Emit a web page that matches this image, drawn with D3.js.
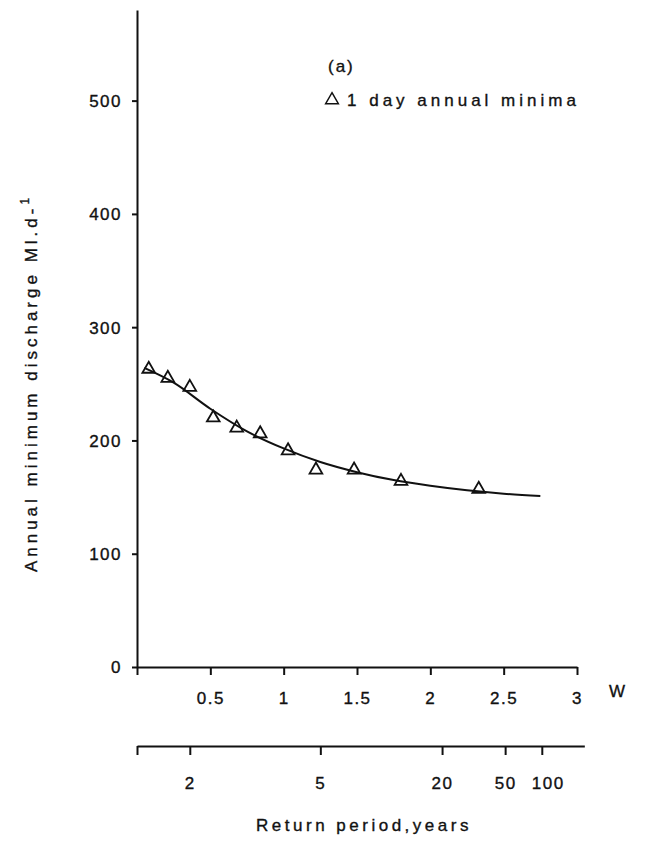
<!DOCTYPE html>
<html>
<head>
<meta charset="utf-8">
<script src="https://cdn.jsdelivr.net/npm/d3@7"></script>
<style>
  body { margin: 0; background: #fff; }
  svg text { font-family: "Liberation Sans", Arial, sans-serif; fill: #111; stroke: #111; stroke-width: 0.35px; }
  .axis path, .axis line { stroke: #111; stroke-width: 2; }
  .axis text { font-size: 17px; letter-spacing: 1.5px; }
</style>
</head>
<body>
<div id="vis"></div>
<script>

// observed 1 day annual minima: reduced variate W and discharge (Ml/d)
var obsW = [0.08, 0.21, 0.36, 0.52, 0.68, 0.84, 1.03, 1.22, 1.48, 1.80, 2.33];
var obsQ = [263, 255, 247, 220, 211, 206, 191, 174, 174, 164, 157];

// fitted curve
var fitW = [0.05, 0.25, 0.5, 0.75, 1.0, 1.25, 1.5, 1.75, 2.0, 2.25, 2.5, 2.75];
var fitQ = [264, 251, 228, 208, 193, 181, 172, 165, 160, 156, 153, 151];

// axis ticks
var yTicks = [0, 100, 200, 300, 400, 500];
var wTicks = [0, 0.5, 1, 1.5, 2, 2.5, 3];
var periodLabels = ["", "2", "5", "20", "50", "100"];
var periodW = [0, 0.36, 1.25, 2.08, 2.51, 2.76];

var width = 663, height = 842;

var svg = d3.select("#vis").append("svg")
    .attr("width", width)
    .attr("height", height);

// scales
var x = d3.scaleLinear().domain([0, 3]).range([137, 577]);
var y = d3.scaleLinear().domain([0, 580]).range([667, 10]);
// return period axis shares the W scale, a little longer
var x2 = d3.scaleLinear().domain([0, 3.05]).range([x(0), x(3.05)]);

// y axis
svg.append("g")
    .attr("class", "axis")
    .attr("transform", "translate(" + x(0) + ",0)")
    .call(d3.axisLeft(y).tickValues(yTicks).tickSize(5).tickSizeOuter(0).tickPadding(10))
    .call(function(g) { g.selectAll(".tick text").attr("dy", "0.35em"); });

// W axis
svg.append("g")
    .attr("class", "axis")
    .attr("transform", "translate(0," + y(0) + ")")
    .call(d3.axisBottom(x).tickValues(wTicks).tickSize(8).tickSizeOuter(0).tickPadding(17)
        .tickFormat(function(d) { return d === 0 ? "" : d3.format("")(d); }));

svg.append("text")
    .attr("x", 617)
    .attr("y", 697)
    .attr("text-anchor", "middle")
    .style("font-size", "17px")
    .text("W");

// return period axis
var yPeriod = 746;
svg.append("g")
    .attr("class", "axis")
    .attr("transform", "translate(0," + yPeriod + ")")
    .call(d3.axisBottom(x2).tickValues(periodW).tickSize(9).tickSizeOuter(0).tickPadding(22)
        .tickFormat(function(d, i) { return periodLabels[i]; }))
    .call(function(g) {
      g.selectAll(".tick text").attr("dx", function(d, i) { return i === 5 ? 6 : 0; });
    });

svg.append("text")
    .attr("x", 364)
    .attr("y", 831)
    .attr("text-anchor", "middle")
    .style("font-size", "17px")
    .style("letter-spacing", "3.5px")
    .text("Return period,years");

// y axis title
var ylab = svg.append("text")
    .attr("transform", "translate(37,383)rotate(-90)")
    .attr("text-anchor", "middle")
    .style("font-size", "17px")
    .style("letter-spacing", "4px");
ylab.append("tspan").text("Annual minimum discharge Ml.d-");
ylab.append("tspan").attr("dy", -8).style("font-size", "12px").text("1");

// fitted line
var fit = fitW.map(function(w, i) { return {w: w, q: fitQ[i]}; });
var line = d3.line()
    .x(function(d) { return x(d.w); })
    .y(function(d) { return y(d.q); })
    .curve(d3.curveMonotoneX);

svg.append("path")
    .datum(fit)
    .attr("fill", "none")
    .attr("stroke", "#111")
    .attr("stroke-width", 2)
    .attr("d", line);

// observed points
var obs = obsW.map(function(w, i) { return {w: w, q: obsQ[i]}; });
var tri = d3.symbol().type(d3.symbolTriangle).size(70);

svg.selectAll(".pt")
    .data(obs)
  .enter().append("path")
    .attr("class", "pt")
    .attr("transform", function(d) { return "translate(" + x(d.w) + "," + y(d.q) + ")"; })
    .attr("d", tri)
    .attr("fill", "none")
    .attr("stroke", "#111")
    .attr("stroke-width", 1.8);

// legend
svg.append("text")
    .attr("x", 328)
    .attr("y", 72)
    .style("font-size", "17px")
    .style("letter-spacing", "2px")
    .text("(a)");

svg.append("path")
    .attr("transform", "translate(332,100)")
    .attr("d", tri)
    .attr("fill", "none")
    .attr("stroke", "#111")
    .attr("stroke-width", 1.5);

svg.append("text")
    .attr("x", 347)
    .attr("y", 106)
    .style("font-size", "17px")
    .style("letter-spacing", "4px")
    .text("1 day annual minima");

</script>
</body>
</html>
